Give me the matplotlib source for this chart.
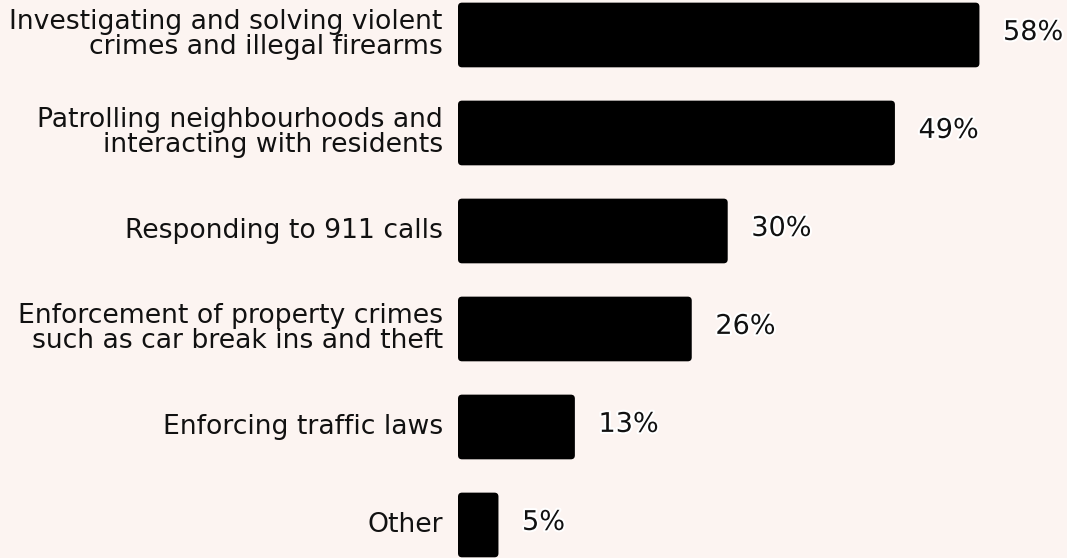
import matplotlib.pyplot as plt
import matplotlib.patheffects as pe
import matplotlib.transforms as mtransforms
from matplotlib.patches import FancyBboxPatch

categories = [
    "Investigating and solving violent\ncrimes and illegal firearms",
    "Patrolling neighbourhoods and\ninteracting with residents",
    "Responding to 911 calls",
    "Enforcement of property crimes\nsuch as car break ins and theft",
    "Enforcing traffic laws",
    "Other",
]
values = [58, 48.6, 30, 26, 13, 4.5]
labels = ["58%", "49%", "30%", "26%", "13%", "5%"]

bg = "#fcf4f1"
W, H = 1067, 558
fig = plt.figure(figsize=(W / 100, H / 100), dpi=100, facecolor=bg)
ax = fig.add_axes([458 / W, 0, (W - 458) / W, 1])
ax.set_facecolor(bg)

xmax = 67.74
ax.set_xlim(0, xmax)
ax.set_ylim(5.337, -0.357)

y = list(range(len(values)))
bars = ax.barh(y, values, height=0.66, color="black")

# swap plain rectangles for slightly rounded ones
px_x = xmax / (W - 458)   # data units per pixel, x
px_y = 5.694 / H           # data units per pixel, y
r = 4 * px_x
for b in bars:
    x0, y0, w, h = b.get_x(), b.get_y(), b.get_width(), b.get_height()
    b.set_visible(False)
    ax.add_patch(FancyBboxPatch((x0, y0), w, h,
                                boxstyle=f"round,pad=0,rounding_size={r}",
                                mutation_aspect=px_y / px_x,
                                facecolor="black", edgecolor="none"))

for yi, v, lab in zip(y, values, labels):
    ax.annotate(lab, (v, yi), xytext=(17, 1.5), textcoords="offset points",
                va="center", ha="left", fontsize=19.5, color="#111111",
                path_effects=[pe.withStroke(linewidth=3, foreground="white")])

ax.set_yticks(y)
ax.set_yticklabels(categories, fontsize=19.2, color="#111111", linespacing=0.95)
ax.tick_params(axis="y", length=0, pad=11)
ax.set_xticks([])
for s in ax.spines.values():
    s.set_visible(False)

# nudge the category labels up a touch
shift = mtransforms.ScaledTranslation(0, 2.5 / 100, fig.dpi_scale_trans)
for t in ax.get_yticklabels():
    t.set_transform(t.get_transform() + shift)

fig.savefig("out.png", dpi=100, facecolor=bg)
